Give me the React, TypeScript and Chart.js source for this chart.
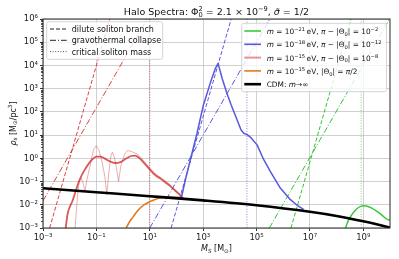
import React, { useEffect, useRef } from 'react';
import { Chart, registerables } from 'chart.js';

Chart.register(...registerables);

// ---- data (log10 values) ----
const xTickExps = [-3, -1, 1, 3, 5, 7, 9];
const yTickExps = [-3, -2, -1, 0, 1, 2, 3, 4, 5, 6];

const cdmLogM = [-3, -1, 1, 3, 5, 7, 8, 9, 9.5, 10];
const cdmLogRho = [-1.29, -1.46, -1.63, -1.81, -2.02, -2.3, -2.48, -2.71, -2.84, -2.98];

const greenLogM = [8.3, 8.45, 8.6, 8.75, 8.9, 9.02, 9.15, 9.3, 9.45, 9.6, 9.75, 9.85, 9.92, 10];
const greenLogRho = [-3.1, -2.65, -2.38, -2.18, -2.07, -2.04, -2.06, -2.13, -2.24, -2.36, -2.5, -2.6, -2.64, -2.66];

const blueLogM = [2.18, 2.35, 2.52, 2.77, 3.01, 3.27, 3.45, 3.56, 3.71, 3.89, 4.05, 4.27, 4.42, 4.52, 4.65, 4.8, 5.02, 5.27, 5.52, 5.89, 6.27, 6.5, 6.77];
const blueLogRho = [-1.72, -0.85, -0.06, 1.08, 2.3, 3.25, 3.85, 4.09, 3.45, 2.8, 2.3, 1.66, 1.22, 1.08, 1.02, 0.88, 0.58, -0.06, -0.57, -1.28, -1.78, -2.0, -2.21];

const redLogM = [-2.15, -2.08, -2.0, -1.9, -1.8, -1.7, -1.6, -1.45, -1.3, -1.15, -1.0, -0.85, -0.7, -0.5, -0.3, -0.1, 0.1, 0.3, 0.45, 0.6, 0.8, 1.0, 1.2, 1.4, 1.6, 1.8, 2.0, 2.14, 2.26];
const redLogRho = [-3.0, -2.4, -2.1, -1.85, -1.5, -1.15, -0.85, -0.52, -0.25, -0.04, 0.07, 0.07, 0.0, -0.13, -0.2, -0.16, -0.02, 0.1, 0.12, 0.02, -0.22, -0.48, -0.72, -0.87, -1.05, -1.23, -1.44, -1.58, -1.74];

const redRawLogM = [-1.8, -1.7, -1.64, -1.57, -1.5, -1.43, -1.35, -1.24, -1.11, -1.01, -0.9, -0.78, -0.68, -0.61, -0.53, -0.45, -0.4, -0.33, -0.25, -0.17, -0.08, 0.05, 0.16, 0.3, 0.52, 0.7, 0.83, 1.0, 1.2, 1.4, 1.64, 1.9, 2.1, 2.25];
const redRawLogRho = [-3.0, -1.5, -0.95, -0.86, -1.05, -1.43, -0.9, -0.35, 0.37, 0.54, 0.35, -0.2, -0.8, -1.57, -0.6, 0.15, 0.26, 0.05, -0.4, -1.0, -0.3, 0.15, 0.34, 0.3, 0.19, 0.0, -0.19, -0.42, -0.65, -0.83, -1.01, -1.3, -1.53, -1.74];

const orangeLogM = [0.11, 0.25, 0.39, 0.5, 0.64, 0.8, 1.01, 1.2, 1.39, 1.6, 1.77, 2.0, 2.14, 2.26];
const orangeLogRho = [-3.0, -2.72, -2.5, -2.32, -2.14, -1.99, -1.86, -1.77, -1.71, -1.68, -1.67, -1.68, -1.69, -1.75];

// straight guide lines (endpoints): dilute soliton (dashed), gravothermal (dash-dot)
const guideEndRho = [-3, 6];
const redDiluteLogM = [-2.75, -0.5];
const redGravoLogM = [-3, 0.9];
const redGravoLogRho = [-1.83, 6];
const blueDiluteLogM = [1.8, 4.05];
const blueGravoLogM = [1.0, 5.5];
const greenDiluteLogM = [6.29, 8.54];
const greenGravoLogM = [5.48, 9.98];
// critical soliton masses (dotted verticals)
const critLogM = [1.0, 4.64, 8.92];

// ---- helpers ----
const FONT = '"DejaVu Sans", sans-serif';
const SUP: Record<string, string> = { '-': '⁻', '0': '⁰', '1': '¹', '2': '²', '3': '³', '4': '⁴', '5': '⁵', '6': '⁶', '7': '⁷', '8': '⁸', '9': '⁹' };
const supLabel = (e: number) => '10' + String(e).split('').map((c) => SUP[c] || c).join('');
const pts = (lm: number[], lr: number[]) => lm.map((m, i) => ({ x: Math.pow(10, m), y: Math.pow(10, lr[i]) }));

type Seg = { t: string; k?: 'sub' | 'sup'; it?: boolean; hold?: boolean };
const fontOf = (s: Seg, size: number) => `${s.it ? 'italic ' : ''}${s.k ? size * 0.7 : size}px ${FONT}`;
function drawRich(ctx: CanvasRenderingContext2D, segs: Seg[], x: number, y: number, size: number, align: 'left' | 'center') {
  const widths = segs.map((s) => {
    ctx.font = fontOf(s, size);
    return ctx.measureText(s.t).width;
  });
  let total = 0;
  segs.forEach((s, i) => {
    if (!s.hold) total += widths[i];
  });
  let cx = align === 'center' ? x - total / 2 : x;
  ctx.textAlign = 'left';
  ctx.textBaseline = 'alphabetic';
  segs.forEach((s, i) => {
    ctx.font = fontOf(s, size);
    const dy = s.k === 'sup' ? -0.38 * size : s.k === 'sub' ? 0.22 * size : 0;
    ctx.fillText(s.t, cx, y + dy);
    if (!s.hold) cx += widths[i];
  });
}

const titleSegs: Seg[] = [
  { t: 'Halo Spectra: Φ' },
  { t: '0', k: 'sub', hold: true },
  { t: '2', k: 'sup' },
  { t: ' = 2.1 × 10' },
  { t: '−9', k: 'sup' },
  { t: ', ' },
  { t: 'σ̃', it: true },
  { t: ' = 1/2' },
];
const xLabelSegs: Seg[] = [{ t: 'M', it: true }, { t: 'S', k: 'sub', it: true }, { t: ' [M' }, { t: '⊙', k: 'sub' }, { t: ']' }];
const yLabelSegs: Seg[] = [{ t: 'ρ', it: true }, { t: 's', k: 'sub', it: true }, { t: ' [M' }, { t: '⊙', k: 'sub' }, { t: '/pc' }, { t: '3', k: 'sup' }, { t: ']' }];

const styleLegend = [
  { label: 'dilute soliton branch', dash: [4, 2] },
  { label: 'gravothermal collapse', dash: [6, 2, 1, 2] },
  { label: 'critical soliton mass', dash: [1, 1.6] },
];
const GREEN = '#3cc83c';
const BLUE = '#5858dc';
const RED = 'rgba(208,48,48,0.8)';
const RED_LIGHT = 'rgba(214,60,60,0.42)';
const ORANGE = '#e07b1a';
const seriesLegend: { color: string; width: number; segs: Seg[] }[] = [
  { color: GREEN, width: 1.6, segs: [{ t: 'm', it: true }, { t: ' = 10' }, { t: '−21', k: 'sup' }, { t: '\u2009eV, ' }, { t: 'π', it: true }, { t: ' − |Θ' }, { t: '0', k: 'sub' }, { t: '| = 10' }, { t: '−2', k: 'sup' }] },
  { color: BLUE, width: 1.6, segs: [{ t: 'm', it: true }, { t: ' = 10' }, { t: '−18', k: 'sup' }, { t: '\u2009eV, ' }, { t: 'π', it: true }, { t: ' − |Θ' }, { t: '0', k: 'sub' }, { t: '| = 10' }, { t: '−12', k: 'sup' }] },
  { color: 'rgba(214,60,60,0.55)', width: 2, segs: [{ t: 'm', it: true }, { t: ' = 10' }, { t: '−15', k: 'sup' }, { t: '\u2009eV, ' }, { t: 'π', it: true }, { t: ' − |Θ' }, { t: '0', k: 'sub' }, { t: '| = 10' }, { t: '−8', k: 'sup' }] },
  { color: ORANGE, width: 1.6, segs: [{ t: 'm', it: true }, { t: ' = 10' }, { t: '−15', k: 'sup' }, { t: '\u2009eV, |Θ' }, { t: '0', k: 'sub' }, { t: '| = ' }, { t: 'π', it: true }, { t: '/2' }] },
  { color: '#000', width: 2.6, segs: [{ t: 'CDM: ' }, { t: 'm', it: true }, { t: '→∞' }] },
];

function roundRect(ctx: CanvasRenderingContext2D, x: number, y: number, w: number, h: number, r: number) {
  ctx.beginPath();
  ctx.moveTo(x + r, y);
  ctx.lineTo(x + w - r, y);
  ctx.arcTo(x + w, y, x + w, y + r, r);
  ctx.lineTo(x + w, y + h - r);
  ctx.arcTo(x + w, y + h, x + w - r, y + h, r);
  ctx.lineTo(x + r, y + h);
  ctx.arcTo(x, y + h, x, y + h - r, r);
  ctx.lineTo(x, y + r);
  ctx.arcTo(x, y, x + r, y, r);
  ctx.closePath();
}

const decorPlugin = {
  id: 'decor',
  afterDatasetsDraw(chart: any) {
    const { ctx, chartArea: a, scales } = chart;
    ctx.save();
    // frame
    ctx.strokeStyle = '#262626';
    ctx.lineWidth = 1;
    ctx.setLineDash([]);
    ctx.strokeRect(a.left, a.top, a.right - a.left, a.bottom - a.top);
    // minor y ticks
    ctx.beginPath();
    for (let k = -3; k < 6; k++) {
      for (let j = 2; j <= 9; j++) {
        const py = Math.round(scales.y.getPixelForValue(j * Math.pow(10, k))) + 0.5;
        ctx.moveTo(a.left - 2, py);
        ctx.lineTo(a.left, py);
      }
    }
    ctx.lineWidth = 0.8;
    ctx.stroke();
    ctx.restore();
  },
  afterDraw(chart: any) {
    const { ctx, chartArea: a } = chart;
    ctx.save();
    ctx.fillStyle = '#111';
    // title
    drawRich(ctx, titleSegs, (a.left + a.right) / 2, 14.5, 9.5, 'center');
    // x label
    drawRich(ctx, xLabelSegs, (a.left + a.right) / 2, 251, 8, 'center');
    // y label
    ctx.save();
    ctx.translate(15.5, (a.top + a.bottom) / 2);
    ctx.rotate(-Math.PI / 2);
    drawRich(ctx, yLabelSegs, 0, 0, 8, 'center');
    ctx.restore();

    // legend 1 (line styles)
    const l1x = a.left + 3.7, l1y = a.top + 2.7;
    roundRect(ctx, l1x, l1y, 116, 37.6, 2);
    ctx.fillStyle = 'rgba(255,255,255,0.8)';
    ctx.fill();
    ctx.strokeStyle = '#d4d4d4';
    ctx.lineWidth = 1;
    ctx.stroke();
    styleLegend.forEach((e, i) => {
      const ry = l1y + 7.3 + i * 11.3;
      ctx.beginPath();
      ctx.setLineDash(e.dash);
      ctx.strokeStyle = i === 2 ? '#555' : '#222';
      ctx.lineWidth = 1;
      ctx.moveTo(l1x + 3.3, ry);
      ctx.lineTo(l1x + 20, ry);
      ctx.stroke();
      ctx.setLineDash([]);
      ctx.fillStyle = '#111';
      drawRich(ctx, [{ t: e.label }], l1x + 25, ry + 3, 8, 'left');
    });

    // legend 2 (series)
    const l2x = 241.7, l2y = a.top + 4.3, l2w = a.right - 3.5 - 241.7;
    roundRect(ctx, l2x, l2y, l2w, 68.4, 2);
    ctx.fillStyle = 'rgba(255,255,255,0.8)';
    ctx.fill();
    ctx.strokeStyle = '#d4d4d4';
    ctx.lineWidth = 1;
    ctx.stroke();
    seriesLegend.forEach((e, i) => {
      const ry = l2y + 7.7 + i * 13.3;
      ctx.beginPath();
      ctx.setLineDash([]);
      ctx.strokeStyle = e.color;
      ctx.lineWidth = e.width;
      ctx.moveTo(l2x + 2.6, ry);
      ctx.lineTo(l2x + 19.3, ry);
      ctx.stroke();
      ctx.fillStyle = '#111';
      drawRich(ctx, e.segs, l2x + 25, ry + 3, 7.4, 'left');
    });
    ctx.restore();
  },
};

export default function App() {
  const ref = useRef<HTMLCanvasElement | null>(null);
  useEffect(() => {
    if (!ref.current) return;
    const curve = (data: any, color: string, width: number, smooth: boolean) => ({
      data,
      borderColor: color,
      borderWidth: width,
      pointRadius: 0,
      fill: false,
      cubicInterpolationMode: smooth ? 'monotone' : 'default',
      tension: 0,
      borderJoinStyle: 'round',
      clip: 0,
    });
    const guide = (data: any, color: string, dash: number[], width = 1) => ({
      data,
      borderColor: color,
      borderWidth: width,
      borderDash: dash,
      pointRadius: 0,
      fill: false,
      tension: 0,
      clip: 0,
    });
    const DASH = [4, 2];
    const DASHDOT = [6, 2, 1, 2];
    const DOT = [1, 1.6];
    const vert = (lm: number) => pts([lm, lm], guideEndRho);
    const datasets: any[] = [
      curve(pts(cdmLogM, cdmLogRho), '#000', 2.6, true),
      curve(pts(greenLogM, greenLogRho), GREEN, 1.5, true),
      curve(pts(blueLogM, blueLogRho), BLUE, 1.5, false),
      curve(pts(orangeLogM, orangeLogRho), ORANGE, 1.6, true),
      curve(pts(redLogM, redLogRho), RED, 1.8, true),
      curve(pts(redRawLogM, redRawLogRho), RED_LIGHT, 1, false),
      guide(pts(redDiluteLogM, guideEndRho), 'rgba(215,45,45,0.9)', DASH),
      guide(pts(redGravoLogM, redGravoLogRho), 'rgba(215,45,45,0.9)', DASHDOT),
      guide(pts(blueDiluteLogM, guideEndRho), 'rgba(70,70,220,0.9)', DASH),
      guide(pts(blueGravoLogM, guideEndRho), 'rgba(70,70,220,0.9)', DASHDOT),
      guide(pts(greenDiluteLogM, guideEndRho), 'rgba(40,190,40,0.95)', DASH),
      guide(pts(greenGravoLogM, guideEndRho), 'rgba(40,190,40,0.95)', DASHDOT),
      guide(vert(critLogM[0]), 'rgba(200,60,60,0.75)', DOT),
      guide(vert(critLogM[1]), 'rgba(90,90,240,0.75)', DOT),
      guide(vert(critLogM[2]), 'rgba(60,200,60,0.75)', DOT),
    ];
    const tickFont = { family: FONT, size: 8.5 };
    const chart = new Chart(ref.current, {
      type: 'line',
      data: { datasets },
      options: {
        animation: false,
        responsive: false,
        devicePixelRatio: 1,
        events: [],
        layout: { padding: { top: 19, right: 9, left: 0, bottom: 0 } },
        plugins: { legend: { display: false }, tooltip: { enabled: false }, title: { display: false } },
        scales: {
          x: {
            type: 'logarithmic',
            min: 1e-3,
            max: 1e10,
            afterBuildTicks: (s: any) => {
              s.ticks = xTickExps.map((e) => ({ value: Math.pow(10, e) }));
            },
            afterFit: (s: any) => {
              s.height = 31;
            },
            ticks: {
              callback: (v: any) => supLabel(Math.round(Math.log10(Number(v)))),
              font: tickFont,
              color: '#222',
              padding: 2,
              autoSkip: false,
              maxRotation: 0,
            },
            grid: { color: 'rgba(176,176,176,0.6)', lineWidth: 1, tickLength: 3, tickColor: '#333', drawTicks: true },
            border: { display: false },
          },
          y: {
            type: 'logarithmic',
            min: 1e-3,
            max: 1e6,
            afterBuildTicks: (s: any) => {
              s.ticks = yTickExps.map((e) => ({ value: Math.pow(10, e) }));
            },
            afterFit: (s: any) => {
              s.width = 43;
            },
            ticks: {
              callback: (v: any) => supLabel(Math.round(Math.log10(Number(v)))),
              font: tickFont,
              color: '#222',
              padding: 2,
              autoSkip: false,
            },
            grid: { color: 'rgba(176,176,176,0.6)', lineWidth: 1, tickLength: 3, tickColor: '#333', drawTicks: true },
            border: { display: false },
          },
        },
      } as any,
      plugins: [decorPlugin],
    });
    return () => chart.destroy();
  }, []);
  return (
    <div style={{ position: 'fixed', left: 0, top: 0, width: 399, height: 259, background: '#fff' }}>
      <canvas ref={ref} width={399} height={259} style={{ display: 'block', width: 399, height: 259 }} />
    </div>
  );
}
